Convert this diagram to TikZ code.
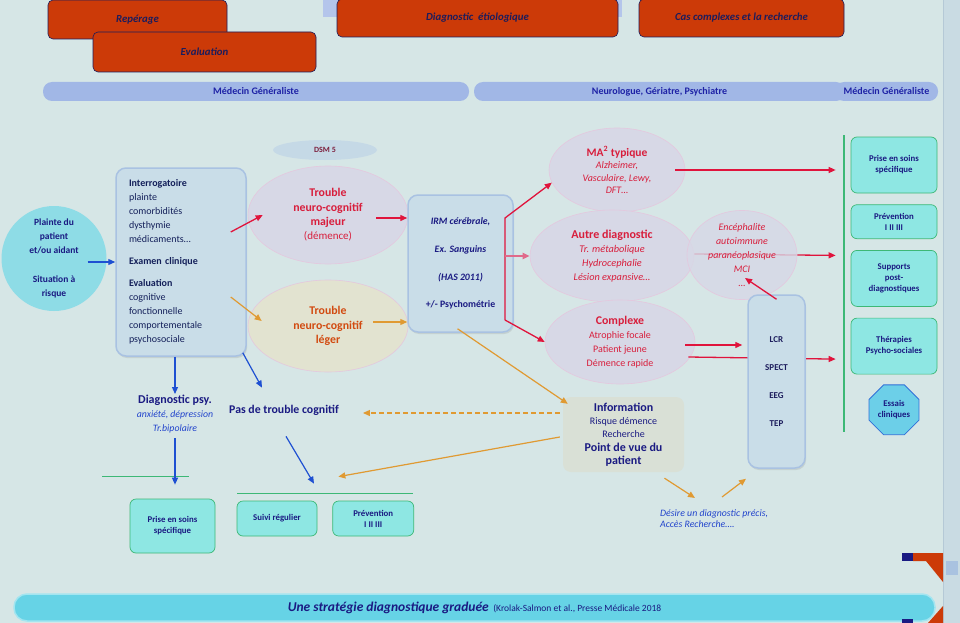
\documentclass[tikz,border=0pt]{standalone}
\usepackage{fontspec}
\setmainfont{Carlito}
\usetikzlibrary{positioning,shapes.geometric,shadows,arrows.meta}

\definecolor{bgc}{HTML}{D6E6E6}
\definecolor{strip}{HTML}{C9DBE3}
\definecolor{stripl}{HTML}{B5C9D6}
\definecolor{rust}{HTML}{CC3A08}
\definecolor{ink}{HTML}{1C1C5C}
\definecolor{navy}{HTML}{1A1A82}
\definecolor{deepnavy}{HTML}{14205A}
\definecolor{barc}{HTML}{A1B7E6}
\definecolor{barink}{HTML}{1E22A6}
\definecolor{teal}{HTML}{8EE7E3}
\definecolor{tealb}{HTML}{3DB876}
\definecolor{pale}{HTML}{C9DDE8}
\definecolor{paleb}{HTML}{A9C2E2}
\definecolor{lav}{HTML}{D7D8E6}
\definecolor{lavb}{HTML}{E4C8DE}
\definecolor{beige}{HTML}{E2E3D0}
\definecolor{crim}{HTML}{D81E3C}
\definecolor{redar}{HTML}{E0143C}
\definecolor{pinkar}{HTML}{E06A8A}
\definecolor{orar}{HTML}{E09A32}
\definecolor{bluar}{HTML}{1E50D2}
\definecolor{orink}{HTML}{D24A10}
\definecolor{infoc}{HTML}{D9E0D6}
\definecolor{cyanb}{HTML}{66D3E6}
\definecolor{disk}{HTML}{8EDCE6}
\definecolor{essc}{HTML}{6CCFE8}
\definecolor{essb}{HTML}{2F6FD8}
\definecolor{dsmc}{HTML}{C5D9E6}
\definecolor{dsmink}{HTML}{7C1E3C}
\definecolor{blueit}{HTML}{2244CC}
\definecolor{sq}{HTML}{A9C2E0}

\begin{document}
\begin{tikzpicture}[x=1pt,y=-1pt,
  every node/.style={align=center,text=ink},%
  hdr/.style={rounded corners=5pt,fill=rust,draw=ink,line width=.6pt,%
    font=\fontsize{10.8}{12}\selectfont\bfseries\itshape},%
  band/.style={rounded corners=9pt,fill=barc,minimum height=19pt,text=barink,%
    font=\fontsize{10}{11}\selectfont\bfseries},%
  lb/.style={rounded corners=10pt,fill=pale,draw=paleb,line width=1.5pt,%
    drop shadow={opacity=.2,shadow xshift=1pt,shadow yshift=-2pt}},%
  ov/.style={ellipse,fill=lav,draw=lavb,line width=.6pt,inner sep=0pt},%
  tl/.style={rounded corners=6pt,fill=teal,draw=tealb,line width=.7pt,text=navy,%
    font=\fontsize{8.8}{11}\selectfont\bfseries,minimum width=86pt},%
  ra/.style={-{Triangle[length=7pt,width=6pt]},line width=1.3pt,draw=redar},%
  oa/.style={-{Triangle[length=7pt,width=6pt]},line width=1.2pt,draw=orar},%
  ba/.style={-{Triangle[length=7pt,width=6pt]},line width=1.2pt,draw=bluar},%
  gl/.style={draw=tealb,line width=1.2pt},%
  ]
  \useasboundingbox (0,0) rectangle (960,623);
  \fill [bgc] (0,0) rectangle (960,623);
  \fill [strip] (944,0) rectangle (960,623);
  \draw [stripl,line width=1pt] (943.5,0) -- (943.5,623);

  % bandeau du haut
  \fill [barc!80!white] (323,0) rectangle (622,17);
  \node (rep) [hdr,minimum width=179pt,minimum height=39pt] at (137.5,19.5) {Repérage};
  \node (eval) [hdr,minimum width=223pt,minimum height=40pt] at (204.5,52) {Evaluation};
  \node (diag) [hdr,minimum width=281pt,minimum height=38pt] at (477.5,18) {Diagnostic~ étiologique};
  \node (cas) [hdr,minimum width=205pt,minimum height=38pt] at (741.5,18) {Cas complexes et la recherche};

  \node (mg1) [band,minimum width=426pt] at (256,91.5) {Médecin Généraliste};
  \node (ngp) [band,minimum width=371pt] at (659.5,91.5) {Neurologue, Gériatre, Psychiatre};
  \node (mg2) [band,minimum width=103pt] at (886.5,91.5) {Médecin Généraliste};

  % repérage / évaluation
  \node (plainte) [circle,fill=disk,minimum size=105pt,inner sep=0pt,text=navy,%
    font=\fontsize{9.5}{14}\selectfont\bfseries] at (54,258.5)
    {Plainte du\\patient\\et/ou aidant\\[15pt]Situation à\\risque};

  \node (lbox) [lb,minimum width=130pt,minimum height=188pt,text width=104pt,align=left,%
    text=deepnavy,font=\fontsize{10}{14}\selectfont] at (181,262)
    {{\bfseries Interrogatoire}\\plainte\\comorbidités\\dysthymie\\médicaments…\\[8pt]%
     {\bfseries Examen clinique}\\[8pt]{\bfseries Evaluation}\\cognitive\\fonctionnelle\\%
     comportementale\\psychosociale};

  \node (dsm) [ellipse,fill=dsmc,minimum width=104pt,minimum height=20pt,inner sep=0pt,%
    text=dsmink,font=\fontsize{8}{10}\selectfont\bfseries] at (325,150) {DSM 5};

  \node (maj) [ov,minimum width=160pt,minimum height=98pt,text=crim,%
    font=\fontsize{11.8}{14.3}\selectfont\bfseries] at (328,215)
    {Trouble\\neuro-cognitif\\majeur\\{\fontsize{11}{14.3}\selectfont\mdseries (démence)}};
  \node (leg) [ov,fill=beige,minimum width=160pt,minimum height=92pt,text=orink,%
    font=\fontsize{11.8}{14.5}\selectfont\bfseries] at (328,326)
    {Trouble\\neuro-cognitif\\léger};

  \node (irm) [lb,minimum width=105pt,minimum height=137pt,text=navy,%
    font=\fontsize{9.8}{14}\selectfont\bfseries\itshape] at (460.5,263.5)
    {IRM cérébrale,\\[14pt]Ex. Sanguins\\[14pt](HAS 2011)\\[13pt]{\upshape +/- Psychométrie}};

  % prise en charge
  \node (ps1) [tl,minimum height=56pt] at (894,165) {Prise en soins\\spécifique};
  \node (prev1) [tl,minimum height=34pt,below=11pt of ps1] {Prévention\\I II III};
  \node (supp) [tl,minimum height=56pt,below=11pt of prev1] {Supports\\post-\\diagnostiques};
  \node (thera) [tl,minimum height=56pt,below=11pt of supp] {Thérapies\\Psycho-sociales};
  \node (ess) [regular polygon,regular polygon sides=8,minimum size=54pt,inner sep=0pt,%
    fill=essc,draw=essb,line width=.8pt,text=navy,font=\fontsize{8.8}{11}\selectfont\bfseries,%
    below=10pt of thera] {Essais\\cliniques};
  \draw [gl] (844,135) -- (844,432);

  % diagnostic étiologique
  \node (ma) [ov,minimum width=136pt,minimum height=84pt,text=crim,%
    font=\fontsize{10}{12.5}\selectfont\itshape] at (617,170)
    {{\fontsize{11.5}{13}\selectfont\bfseries\upshape MA\textsuperscript{2} typique}\\%
     Alzheimer,\\Vasculaire, Lewy,\\DFT…};
  \node (ad) [ov,minimum width=164pt,minimum height=92pt,text=crim,%
    font=\fontsize{10.3}{14}\selectfont\itshape] at (612,256)
    {{\fontsize{12}{14}\selectfont\bfseries\upshape Autre diagnostic}\\%
     Tr. métabolique\\Hydrocephalie\\Lésion expansive…};
  \draw [ra] ([yshift=2pt]ad.east) -- ([xshift=-15pt,yshift=23pt]supp.west);
  \node (cx) [ov,minimum width=150pt,minimum height=84pt,text=crim,%
    font=\fontsize{10}{14}\selectfont] at (620,342)
    {{\fontsize{11.8}{14}\selectfont\bfseries Complexe}\\Atrophie focale\\Patient jeune\\Démence rapide};
  \node (enc) [ov,fill opacity=.82,text opacity=1,minimum width=110pt,minimum height=85pt,%
    text=crim,font=\fontsize{10}{14}\selectfont\itshape] at (742,255)
    {Encéphalite\\autoimmune\\paranéoplasique\\MCI\\…};

  \draw [ra] ([xshift=-7pt,yshift=-15pt]cx.east) -- ([xshift=-15pt,yshift=-13pt]thera.west);
  \node (lcr) [lb,minimum width=57pt,minimum height=173pt,text=ink,%
    font=\fontsize{9}{14}\selectfont\bfseries] at (776.5,381.5)
    {LCR\\[14pt]SPECT\\[14pt]EEG\\[14pt]TEP};

  \node (info) [rounded corners=8pt,fill=infoc,minimum width=121pt,minimum height=75pt,%
    text=navy,font=\fontsize{10}{13}\selectfont] at (623.5,434.5)
    {{\fontsize{12}{13}\selectfont\bfseries Information}\\Risque démence\\Recherche\\[1pt]%
     {\fontsize{12}{16}\selectfont\bfseries Point de vue du}\\{\fontsize{12}{16}\selectfont\bfseries patient}};
  \node (des) [anchor=north west,inner sep=0pt,align=left,text=blueit,%
    font=\fontsize{9.8}{11}\selectfont\itshape] at (660,509)
    {Désire un diagnostic précis,\\Accès Recherche….};

  % branches du bas
  \node (dpsy) [anchor=north,inner sep=1pt,text=blueit,font=\fontsize{9.8}{14}\selectfont\itshape] at (175,394)
    {{\fontsize{12}{14}\selectfont\bfseries\upshape\color{navy}Diagnostic psy.}\\anxiété, dépression\\Tr.bipolaire};
  \node (pas) [inner sep=2pt,text=navy,font=\fontsize{11.8}{13}\selectfont\bfseries] at (284,410)
    {Pas de trouble cognitif};

  \draw [gl] (102,476.5) -- (189,476.5);
  \draw [gl] (237,493.5) -- (413,493.5);
  \node (pss) [tl,minimum width=85pt,minimum height=54pt] at (172.5,526) {Prise en soins\\spécifique};
  \node (suivi) [tl,minimum width=80pt,minimum height=35pt] at (277,518.5) {Suivi régulier};
  \node (prev2) [tl,minimum width=81pt,minimum height=35pt,right=15pt of suivi] {Prévention\\I II III};

  % fleches
  \draw [ba] ([xshift=-19pt,yshift=-3.5pt]plainte.east) -- (lbox.west);
  \draw [ra] ([xshift=-16pt,yshift=30pt]lbox.east) -- ([xshift=15pt]maj.west);
  \draw [oa] ([xshift=-16pt,yshift=-35pt]lbox.east) -- ([xshift=14pt,yshift=5pt]leg.west);
  \draw [ra] ([xshift=-32pt,yshift=-3pt]maj.east) -- ([yshift=45.5pt]irm.west);
  \draw [oa] ([xshift=-35pt,yshift=4pt]leg.east) -- ([yshift=-58.5pt]irm.west);

  \coordinate (bt) at (505,218);
  \coordinate (bb) at (505,320);
  \draw [ra] (bb) -- (bt) -- (ma.191);
  \draw [ra] (bb) -- (cx.west);
  \draw [-{Triangle[length=7pt,width=6pt]},line width=2.4pt,draw=pinkar] (bt |- ad.west) -- (ad.west);

  \draw [ra] ([xshift=-10pt]ma.east) -- ([xshift=-15pt,yshift=-5pt]ps1.west);
  \draw [ra] ([xshift=-10pt,yshift=-3pt]cx.east) -- ([xshift=-5pt,yshift=36.5pt]lcr.west);
  \draw [ra] ([yshift=-5pt]lcr.north) -- ([xshift=3pt,yshift=-23pt]enc.center);

  \draw [oa] ([xshift=-3pt,yshift=4pt]irm.south) -- ([xshift=5pt,yshift=-7pt]info.north west);
  \draw [oa,dash pattern=on 5pt off 3pt] ([xshift=-3pt,yshift=21.5pt]info.west)
    -- ([xshift=22pt,yshift=-3pt]pas.east);
  \draw [oa] ([xshift=-3pt,yshift=-2.5pt]info.west) -- ([xshift=6pt,yshift=24pt]prev2.north west);
  \draw [oa] ([xshift=41pt,yshift=-6pt]info.south) -- ([xshift=35pt,yshift=11pt]des.north west);
  \draw [oa] ([xshift=62pt,yshift=12pt]des.north west) -- ([xshift=-30.5pt,yshift=-10pt]lcr.south);

  \draw [ba] ([xshift=-6pt]lbox.south) -- (dpsy.north);
  \draw [ba] ([yshift=-4pt]dpsy.south) -- ([xshift=2.5pt,yshift=14pt]pss.north);
  \draw [ba] ([xshift=-4pt,yshift=4pt]lbox.south east) -- ([xshift=-22pt,yshift=15pt]pas.north);
  \draw [ba] ([xshift=2pt,yshift=-19pt]pas.south) -- ([xshift=37pt,yshift=17pt]suivi.north);

  % pied de page
  \node (foot) [rounded corners=13pt,fill=cyanb,draw=cyanb!60!white,line width=1.5pt,%
    minimum width=921pt,minimum height=27pt,text=navy] at (474.5,607.5)
    {{\fontsize{13.5}{15}\selectfont\bfseries\itshape Une stratégie diagnostique graduée}~
     {\fontsize{9.5}{10}\selectfont (Krolak-Salmon et al., Presse Médicale 2018}};

  \fill [navy] (902,553) rectangle (913,561);
  \fill [rust] (913,553) -- (943,553) -- (943,582) -- (926,561) -- (913,561) -- cycle;
  \fill [sq] (946,561) rectangle (958,575);
  \fill [rust] (928,623) -- (943,606) -- (943,623) -- cycle;
  \fill [navy] (902,619) rectangle (913,623);
\end{tikzpicture}
\end{document}
